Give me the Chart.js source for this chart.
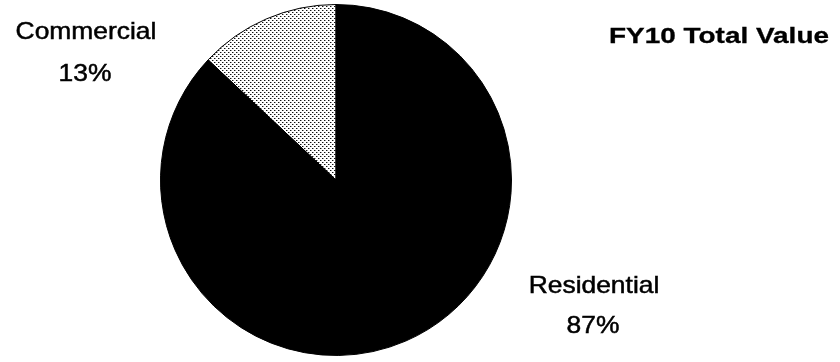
<!DOCTYPE html>
<html>
<head>
<meta charset="utf-8">
<script src="https://cdn.jsdelivr.net/npm/chart.js@4.4.0/dist/chart.umd.min.js"></script>
<style>
  html, body { margin: 0; padding: 0; background: #fff; }
  #wrap { width: 840px; height: 362px; position: relative; }
</style>
</head>
<body>
<div id="wrap"><canvas id="c" width="840" height="362"></canvas></div>
<script>
const categories = ["Commercial", "Residential"];
const values = [13, 87];
const percentLabels = ["13%", "87%"];
const chartTitle = "FY10 Total Value";

function makePattern() {
  const p = document.createElement('canvas');
  p.width = 4; p.height = 4;
  const g = p.getContext('2d');
  g.fillStyle = '#ffffff';
  g.fillRect(0, 0, 4, 4);
  g.fillStyle = '#111111';
  g.fillRect(0, 0, 1, 1);
  g.fillRect(2, 2, 1, 1);
  g.fillStyle = '#9a9a9a';
  g.fillRect(1, 0, 1, 1);
  g.fillRect(3, 2, 1, 1);
  return document.getElementById('c').getContext('2d').createPattern(p, 'repeat');
}

const total = values.reduce((a, b) => a + b, 0);

const labelPlugin = {
  id: 'stretchedLabels',
  afterDraw(chart) {
    const ctx = chart.ctx;
    const reg = '24px "Liberation Sans", Arial, sans-serif';
    const items = [
      { text: categories[0], x: 86, y: 39, font: reg, sx: 1.1, w: 0.5 },
      { text: percentLabels[0], x: 85, y: 81, font: reg, sx: 1.1, w: 0.5 },
      { text: categories[1], x: 594, y: 293, font: reg, sx: 1.1, w: 0.5 },
      { text: percentLabels[1], x: 593, y: 333, font: reg, sx: 1.1, w: 0.5 },
      { text: chartTitle, x: 719, y: 43, font: 'bold 22px "Liberation Sans", Arial, sans-serif', sx: 1.27, w: 0.3 }
    ];
    ctx.save();
    ctx.fillStyle = '#000';
    ctx.strokeStyle = '#000';
    ctx.textAlign = 'center';
    ctx.textBaseline = 'alphabetic';
    for (const it of items) {
      ctx.save();
      ctx.font = it.font;
      ctx.translate(it.x, it.y);
      ctx.scale(it.sx, 1);
      ctx.fillText(it.text, 0, 0);
      ctx.lineWidth = it.w;
      ctx.strokeText(it.text, 0, 0);
      ctx.restore();
    }
    ctx.restore();
  }
};

new Chart(document.getElementById('c'), {
  type: 'pie',
  data: {
    labels: categories,
    datasets: [{
      data: values,
      backgroundColor: [makePattern(), '#000000'],
      borderColor: '#000000',
      borderWidth: 1
    }]
  },
  options: {
    responsive: false,
    animation: false,
    rotation: -values[0] / total * 360,
    layout: { padding: { left: 0, right: 168, top: 4, bottom: 6 } },
    plugins: {
      legend: { display: false },
      tooltip: { enabled: false },
      title: { display: false }
    }
  },
  plugins: [labelPlugin]
});
</script>
</body>
</html>
